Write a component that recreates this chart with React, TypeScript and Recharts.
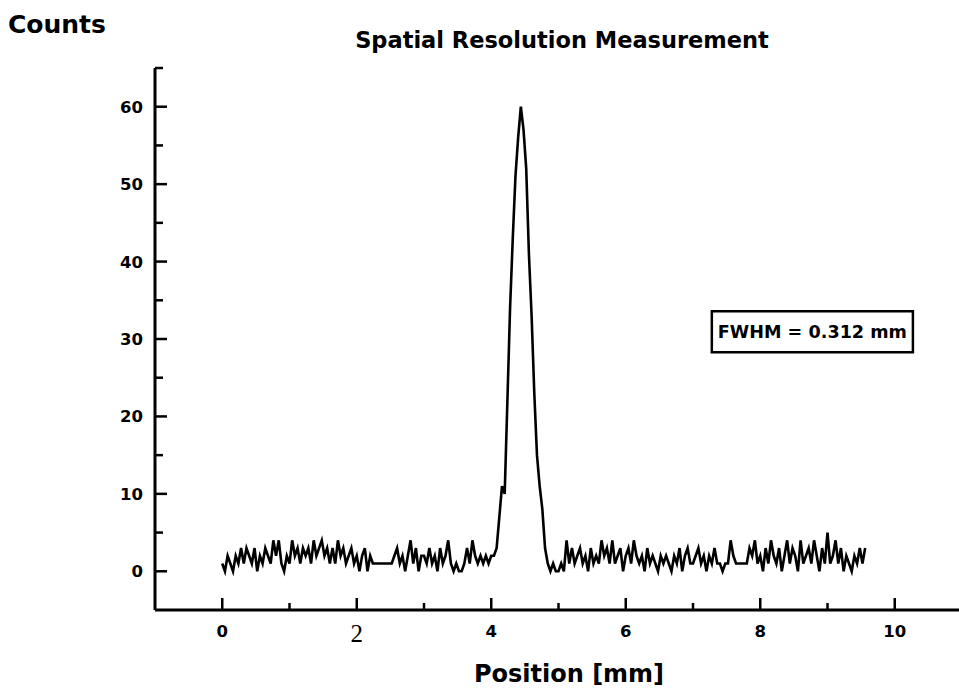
import { LineChart, Line, XAxis, YAxis, ReferenceArea } from 'recharts';

const STEP = 0.04;
const counts0 = [1, 0, 2, 1, 0, 2, 1, 3, 1, 3, 2, 1, 3, 0, 2, 1, 3, 2, 1, 4, 2, 4, 1, 0, 2];
const counts1 = [1, 4, 2, 3, 1, 3, 2, 3, 1, 4, 2, 3, 4, 2, 3, 1, 3, 1, 4, 2, 3, 1, 2, 3, 1];
const counts2 = [2, 0, 2, 3, 0, 2, 1, 1, 1, 1, 1, 1, 1, 1, 2, 3, 1, 2, 0, 2, 4, 1, 3, 0, 2];
const counts3 = [2, 1, 3, 1, 2, 0, 3, 1, 2, 4, 1, 0, 1, 0, 0, 1, 3, 1, 4, 2, 1, 2, 1, 2, 1];
const counts4 = [2, 2, 3, 7, 11, 10, 22, 34, 43, 51, 56, 60, 57, 52, 41, 33, 23, 15, 11, 8, 3, 1, 0, 1, 0];
const counts5 = [0, 1, 0, 4, 1, 3, 1, 2, 3, 1, 2, 0, 3, 1, 2, 1, 4, 2, 3, 1, 4, 1, 2, 3, 0];
const counts6 = [2, 3, 1, 4, 2, 1, 2, 0, 3, 1, 2, 1, 0, 2, 1, 2, 1, 0, 2, 1, 3, 0, 2, 3, 1];
const counts7 = [1, 2, 3, 1, 2, 0, 2, 1, 3, 1, 1, 0, 1, 1, 4, 2, 1, 1, 1, 1, 1, 3, 2, 4, 1];
const counts8 = [2, 0, 3, 1, 4, 2, 1, 3, 0, 2, 4, 1, 3, 2, 0, 4, 1, 2, 3, 1, 4, 2, 0, 3, 1];
const counts9 = [5, 1, 2, 4, 1, 3, 0, 2, 1, 0, 2, 1, 3, 1, 3];

const xTicks = [0, 1, 2, 3, 4, 5, 6, 7, 8, 9, 10];
const yTicks = [0, 5, 10, 15, 20, 25, 30, 35, 40, 45, 50, 55, 60, 65];

const fwhmText = 'FWHM = 0.312 mm';
const fwhmBox = { x1: 7.28, x2: 10.27, y1: 28.3, y2: 33.6 };

const data = [
  ...counts0, ...counts1, ...counts2, ...counts3, ...counts4,
  ...counts5, ...counts6, ...counts7, ...counts8, ...counts9,
].map((c, i) => ({ x: +(i * STEP).toFixed(2), counts: c }));

const FONT = '"DejaVu Sans", sans-serif';
const Y_GAP = 12;
const X_GAP = 20;

function YTick(props: any) {
  const { x, y, payload } = props;
  const v = payload.value;
  const major = v % 10 === 0;
  const ax = x + Y_GAP;
  return (
    <g>
      <line x1={ax} x2={ax + (major ? 12 : 8)} y1={y} y2={y} stroke="#000" strokeWidth={2.5} />
      {major && v <= 60 && (
        <text x={x} y={y} dy="0.36em" textAnchor="end" fontFamily={FONT} fontWeight="bold" fontSize={16.5} fill="#000">
          {v}
        </text>
      )}
    </g>
  );
}

function XTick(props: any) {
  const { x, y, payload } = props;
  const v = payload.value;
  const major = v % 2 === 0;
  const ay = y - X_GAP;
  // the "2" on the scan is set in a plain serif face
  const serif = v === 2;
  return (
    <g>
      <line x1={x} x2={x} y1={ay} y2={ay - (major ? 12 : 7)} stroke="#000" strokeWidth={2.5} />
      {major && (
        <text
          x={x}
          y={y + (serif ? 12 : 7)}
          textAnchor="middle"
          fontFamily={serif ? '"Liberation Serif", serif' : FONT}
          fontWeight={serif ? 'normal' : 'bold'}
          fontSize={serif ? 25 : 16.5}
          fill="#000"
        >
          {v}
        </text>
      )}
    </g>
  );
}

function FwhmLabel(props: any) {
  const vb = props.viewBox;
  return (
    <text
      x={vb.x + vb.width / 2}
      y={vb.y + vb.height / 2}
      dy="0.36em"
      textAnchor="middle"
      fontFamily={FONT}
      fontWeight="bold"
      fontSize={17}
      textLength={vb.width - 12}
      lengthAdjust="spacingAndGlyphs"
      fill="#000"
    >
      {fwhmText}
    </text>
  );
}

const textStyle = {
  position: 'absolute' as const,
  fontFamily: FONT,
  fontWeight: 'bold' as const,
  lineHeight: 1,
  whiteSpace: 'nowrap' as const,
  color: '#000',
};

export default function App() {
  return (
    <div style={{ position: 'absolute', left: 0, top: 0, width: 959, height: 691, overflow: 'hidden', background: '#fff' }}>
      <LineChart width={970} height={691} data={data} margin={{ top: 68, right: 8, bottom: 51, left: 95 }}>
        <XAxis
          dataKey="x"
          type="number"
          domain={[-1, 11]}
          ticks={xTicks}
          interval={0}
          tick={<XTick />}
          tickLine={false}
          tickSize={0}
          tickMargin={X_GAP}
          height={30}
          axisLine={{ stroke: '#000', strokeWidth: 3 }}
        />
        <YAxis
          type="number"
          domain={[-5, 65]}
          ticks={yTicks}
          interval={0}
          tick={<YTick />}
          tickLine={false}
          tickSize={0}
          tickMargin={Y_GAP}
          width={60}
          axisLine={{ stroke: '#000', strokeWidth: 3 }}
        />
        <Line
          type="linear"
          dataKey="counts"
          stroke="#000"
          strokeWidth={2.6}
          strokeLinejoin="miter"
          dot={false}
          isAnimationActive={false}
        />
        <ReferenceArea
          x1={fwhmBox.x1}
          x2={fwhmBox.x2}
          y1={fwhmBox.y1}
          y2={fwhmBox.y2}
          stroke="#000"
          strokeWidth={2.5}
          fill="#fff"
          fillOpacity={1}
          label={(p: any) => <FwhmLabel {...p} />}
        />
      </LineChart>
      <div style={{ ...textStyle, left: 8, top: 12, fontSize: 25 }}>Counts</div>
      <div style={{ ...textStyle, left: 562, top: 29, fontSize: 22.5, transform: 'translateX(-50%)' }}>
        Spatial Resolution Measurement
      </div>
      <div style={{ ...textStyle, left: 569, top: 662, fontSize: 24, transform: 'translateX(-50%)' }}>
        Position [mm]
      </div>
    </div>
  );
}
